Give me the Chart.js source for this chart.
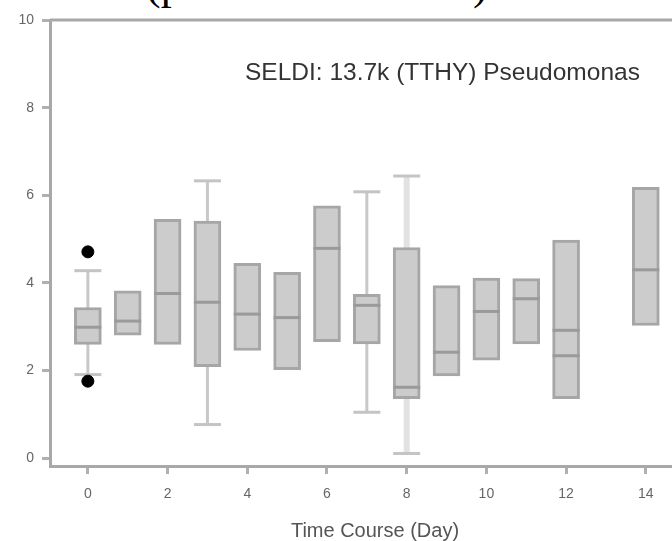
<!DOCTYPE html>
<html>
<head>
<meta charset="utf-8">
<script src="https://cdn.jsdelivr.net/npm/chart.js@4"></script>
<style>
  html, body { margin: 0; padding: 0; background: #fff; }
  body { width: 672px; height: 541px; overflow: hidden; position: relative; }
  #wrap { position: absolute; left: 0; top: 0; width: 720px; height: 541px; }
  #label { position: absolute; left: 245px; top: 60px; font: 24.5px Arial, "Liberation Sans", sans-serif;
           line-height: 24px; color: #333; white-space: nowrap; }
  .cap { position: absolute; top: -37px; font: 44px "Liberation Serif", "Times New Roman", serif;
         line-height: 44px; color: #000; white-space: nowrap; }
</style>
</head>
<body>
<div class="cap" style="left:146px">(p</div>
<div class="cap" style="left:473px">)</div>
<div id="wrap"><canvas id="boxChart" width="720" height="541"></canvas></div>
<div id="label">SELDI: 13.7k (TTHY) Pseudomonas</div>
<script>
// days sampled on the time course
const days = [0, 1, 2, 3, 4, 5, 6, 7, 8, 9, 10, 11, 12, 14];
// lower / upper quartile of each box
const q1 = [2.60, 2.81, 2.60, 2.09, 2.46, 2.02, 2.66, 2.61, 1.36, 1.88, 2.24, 2.61, 1.36, 3.03];
const q3 = [3.44, 3.82, 5.45, 5.41, 4.45, 4.24, 5.76, 3.74, 4.81, 3.94, 4.11, 4.10, 4.98, 6.18];
const median = [2.99, 3.13, 3.76, 3.56, 3.29, 3.21, 4.79, 3.49, 1.62, 2.42, 3.35, 3.64, 2.92, 4.30];
// day 12 has a second line inside the box
const mean = [null, null, null, null, null, null, null, null, null, null, null, null, 2.34, null];
// whiskers (null = none drawn)
const whiskerLow = [1.91, null, null, 0.77, null, null, null, 1.05, 0.11, null, null, null, null, null];
const whiskerHigh = [4.28, null, null, 6.33, null, null, null, 6.08, 6.44, null, null, null, null, null];
// outliers
const outlierDays = [0, 0];
const outlierValues = [4.71, 1.76];

const yTicks = [0, 2, 4, 6, 8, 10];
const xTicks = [0, 2, 4, 6, 8, 10, 12, 14];

const BOX_W = 27;
const axisColor = '#a8a8a8';

const boxExtras = {
  id: 'boxExtras',
  beforeDatasetsDraw(chart) {
    const ctx = chart.ctx, xs = chart.scales.x, ys = chart.scales.y;
    ctx.save();
    days.forEach((d, i) => {
      if (whiskerHigh[i] == null) return;
      const x = xs.getPixelForValue(d);
      const faded = d === 8;
      ctx.strokeStyle = faded ? '#e2e2e2' : '#c8c8c8';
      ctx.lineWidth = faded ? 6 : 3;
      ctx.beginPath();
      ctx.moveTo(x, ys.getPixelForValue(whiskerLow[i]));
      ctx.lineTo(x, ys.getPixelForValue(whiskerHigh[i]));
      ctx.stroke();
      ctx.strokeStyle = '#c4c4c4';
      ctx.lineWidth = 3;
      [whiskerLow[i], whiskerHigh[i]].forEach(v => {
        const y = ys.getPixelForValue(v);
        ctx.beginPath();
        ctx.moveTo(x - BOX_W / 2, y);
        ctx.lineTo(x + BOX_W / 2, y);
        ctx.stroke();
      });
    });
    ctx.restore();
  },
  afterDatasetsDraw(chart) {
    const ctx = chart.ctx, xs = chart.scales.x, ys = chart.scales.y;
    ctx.save();
    ctx.strokeStyle = '#9a9a9a';
    ctx.lineWidth = 3;
    days.forEach((d, i) => {
      const x = xs.getPixelForValue(d);
      [median[i], mean[i]].forEach(v => {
        if (v == null) return;
        const y = ys.getPixelForValue(v);
        ctx.beginPath();
        ctx.moveTo(x - BOX_W / 2, y);
        ctx.lineTo(x + BOX_W / 2, y);
        ctx.stroke();
      });
    });
    // top frame line
    const a = chart.chartArea;
    ctx.strokeStyle = axisColor;
    ctx.beginPath();
    ctx.moveTo(a.left, a.top);
    ctx.lineTo(a.right + 20, a.top);
    ctx.stroke();
    ctx.restore();
  }
};

const ctx = document.getElementById('boxChart').getContext('2d');
const chart = new Chart(ctx, {
  type: 'bar',
  data: {
    datasets: [{
      label: 'box',
      data: days.map((d, i) => ({ x: d, y: [q1[i], q3[i]] })),
      backgroundColor: '#cccccc',
      borderColor: '#a6a6a6',
      borderWidth: 3,
      borderSkipped: false,
      barThickness: BOX_W
    }, {
      type: 'scatter',
      label: 'outliers',
      data: outlierDays.map((d, i) => ({ x: d, y: outlierValues[i] })),
      backgroundColor: '#000',
      borderColor: '#000',
      pointRadius: 6,
      showLine: false
    }]
  },
  options: {
    responsive: false,
    animation: false,
    layout: { padding: { top: 20, right: 20, left: 0, bottom: 0 } },
    plugins: { legend: { display: false }, tooltip: { enabled: false } },
    scales: {
      x: {
        type: 'linear',
        offset: false,
        min: -0.95,
        max: 15.36,
        afterFit(s) { s.height = 75; },
        afterBuildTicks(s) { s.ticks = xTicks.map(v => ({ value: v })); },
        grid: { display: true, drawOnChartArea: false, drawTicks: true, tickLength: 8,
                tickWidth: 3, tickColor: '#b0b0b0', offset: false },
        border: { display: true, color: axisColor, width: 3 },
        ticks: { color: '#666', font: { family: 'Arial', size: 14 }, padding: 12, maxRotation: 0 },
        title: { display: true, text: 'Time Course (Day)', color: '#555',
                 font: { family: 'Arial', size: 20 }, padding: { top: 4, bottom: -2 } }
      },
      y: {
        min: -0.176,
        max: 10,
        afterFit(s) { s.width = 50; },
        afterBuildTicks(s) { s.ticks = yTicks.map(v => ({ value: v })); },
        grid: { display: true, drawOnChartArea: false, drawTicks: true, tickLength: 8,
                tickWidth: 3, tickColor: '#b0b0b0' },
        border: { display: true, color: axisColor, width: 3 },
        ticks: { color: '#666', font: { family: 'Arial', size: 14 }, padding: 8 }
      }
    }
  },
  plugins: [boxExtras]
});
</script>
</body>
</html>
